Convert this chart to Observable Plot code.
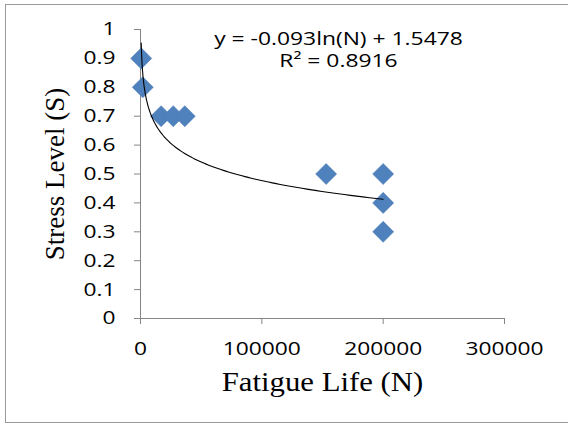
<!DOCTYPE html>
<html>
<head>
<meta charset="utf-8">
<script src="https://cdn.jsdelivr.net/npm/d3@7"></script>
<script src="https://cdn.jsdelivr.net/npm/@observablehq/plot@0.6"></script>
<style>
  body { margin: 0; background: #fff; }
  #wrap { position: relative; width: 568px; height: 425px; overflow: hidden; background: #fff; }
  #wrap svg { position: absolute; left: 0; top: 0; }
  #frame { position: absolute; left: 5px; top: 4px; width: 600px; height: 419px;
           border: 1.5px solid #9a9a9a; box-sizing: border-box; pointer-events: none; }
</style>
</head>
<body>
<div id="wrap"><div id="frame"></div></div>
<script>
// ---- data ----
const fatigueLife = [600, 1900, 17000, 27000, 36500, 153000, 200000, 200000, 200000];
const stressLevel = [0.9, 0.8, 0.7, 0.7, 0.7, 0.5, 0.5, 0.4, 0.3];
const xTicks = [0, 100000, 200000, 300000];
const yTicks = [0, 0.1, 0.2, 0.3, 0.4, 0.5, 0.6, 0.7, 0.8, 0.9, 1];
// logarithmic trendline shown on the chart: y = -0.093 ln(N) + 1.5478
const fitSlope = -0.093;
const fitIntercept = 1.5478;
const equationLabel = "y = -0.093ln(N) + 1.5478";
const r2Label = "R² = 0.8916";
const xTitle = "Fatigue Life (N)";
const yTitle = "Stress Level (S)";

const points = fatigueLife.map((n, i) => ({n, s: stressLevel[i]}));
const nMin = d3.min(fatigueLife), nMax = d3.max(fatigueLife);
const trend = d3.range(0, 201).map(i => {
  const n = Math.exp(Math.log(nMin) + (Math.log(nMax) - Math.log(nMin)) * i / 200);
  return {n, s: fitSlope * Math.log(n) + fitIntercept};
});

const serif = "'Liberation Serif', 'Times New Roman', serif";

const chart = Plot.plot({
  width: 568,
  height: 425,
  marginLeft: 140,
  marginRight: 64,
  marginTop: 29,
  marginBottom: 107,
  style: {
    fontFamily: "'Open Sans', sans-serif",
    fontSize: "18.5px",
    color: "#000",
    background: "transparent",
    overflow: "visible"
  },
  x: {domain: [0, 300000]},
  y: {domain: [0, 1]},
  marks: [
    Plot.ruleY([0], {stroke: "#868686", strokeWidth: 1}),
    Plot.ruleX([0], {stroke: "#868686", strokeWidth: 1}),
    Plot.axisX({ticks: xTicks, tickFormat: d => String(d), tickSize: 6, tickPadding: 17,
                stroke: "#868686", fill: "#000", label: null}),
    Plot.axisY({ticks: yTicks, tickFormat: d => String(d), tickSize: 6, tickPadding: 19,
                stroke: "#868686", fill: "#000", label: null}),
    Plot.dot(points, {x: "n", y: "s", symbol: "diamond2", r: 9.5, fill: "#4F81BD", stroke: "#4a7ab4", strokeWidth: 0.5}),
    Plot.line(trend, {x: "n", y: "s", stroke: "#000", strokeWidth: 1.1}),
    Plot.text([equationLabel + "\n" + r2Label], {
      frameAnchor: "top", dx: 16, dy: -0.7, lineAnchor: "top", lineHeight: 1.25,
      fill: "#000", fontSize: 18
    }),
    Plot.text([xTitle], {
      frameAnchor: "bottom", dy: 63.5, lineAnchor: "middle", textAnchor: "middle",
      fontFamily: serif, fontSize: 27, fill: "#000"
    }),
    Plot.text([yTitle], {
      frameAnchor: "left", dx: -85.6, rotate: -90, lineAnchor: "middle", textAnchor: "middle",
      fontFamily: serif, fontSize: 27, fill: "#000"
    })
  ]
});

// the reference's horizontal text is stretched sideways; widen it around its anchor
d3.select(chart).selectAll("text").each(function() {
  const t = this.textContent;
  if (t === yTitle) return;
  const k = t === xTitle ? 1.14 : (t.startsWith("y =") ? 1.27 : 1.23);
  const tr = this.getAttribute("transform");
  if (tr) {
    this.setAttribute("transform", tr + ` scale(${k},1)`);
  } else {
    const x = +this.getAttribute("x") || 0, y = +this.getAttribute("y") || 0;
    this.setAttribute("transform", `translate(${x},${y}) scale(${k},1) translate(${-x},${-y})`);
  }
});

document.getElementById("wrap").insertBefore(chart, document.getElementById("frame"));
</script>
</body>
</html>
